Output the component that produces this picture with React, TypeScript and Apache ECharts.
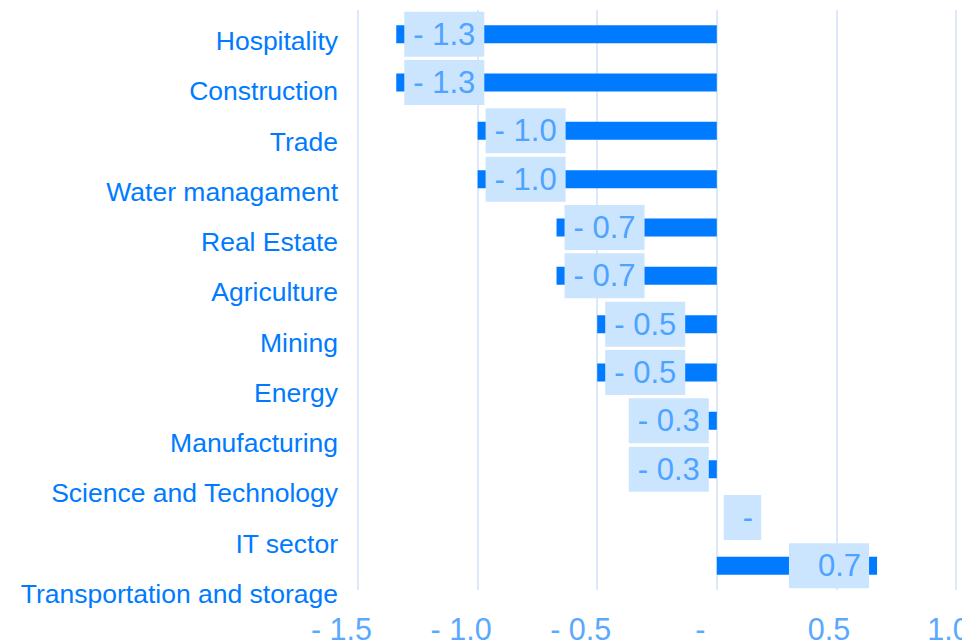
import React, { useEffect, useRef } from "react";
import * as echarts from "echarts";

const categories = [
  "Hospitality",
  "Construction",
  "Trade",
  "Water managament",
  "Real Estate",
  "Agriculture",
  "Mining",
  "Energy",
  "Manufacturing",
  "Science and Technology",
  "IT sector",
  "Transportation and storage",
];
const values = [-1.34, -1.34, -1.0, -1.0, -0.67, -0.67, -0.5, -0.5, -0.3, -0.3, 0, 0.67];
const xMin = -1.5;
const xMax = 1.0;
const xInterval = 0.5;

const FONT = "'Liberation Sans', Arial, sans-serif";
const BAR = "#007bff";
const BOX = "#cce5ff";
const LABEL_TXT = "#4da3ff";
const AXIS_TXT = "#5aa9ff";
const GRID_LINE = "#dde9fb";

const fmt = (v: number) => {
  if (Math.abs(v) < 1e-9) return "-";
  if (v < 0) return "- " + Math.abs(v).toFixed(1);
  return v.toFixed(1);
};

export default function App() {
  const ref = useRef<HTMLDivElement>(null);
  useEffect(() => {
    if (!ref.current) return;
    const chart = echarts.init(ref.current, undefined, { renderer: "svg" });
    const axisRich = { fontSize: 30.5, fontFamily: FONT, color: AXIS_TXT };
    const option: any = {
      animation: false,
      grid: [
        { left: 358, width: 598, top: 10, height: 580, containLabel: false, outerBoundsMode: "none" },
        { left: 358, width: 598, top: 16, height: 603, containLabel: false, outerBoundsMode: "none" },
      ],
      xAxis: [
        {
          type: "value",
          gridIndex: 0,
          min: xMin,
          max: xMax,
          interval: xInterval,
          axisLine: { show: false },
          axisTick: { show: false },
          splitLine: { show: true, lineStyle: { color: GRID_LINE, width: 2 } },
          axisLabel: {
            formatter: (v: number) => (v > 1e-9 ? `{p|${fmt(v)}}` : `{n|${fmt(v)}}`),
            fontSize: 30.5,
            fontFamily: FONT,
            color: AXIS_TXT,
            margin: 23,
            rich: {
              n: { ...axisRich, padding: [0, 33, 0, 0] },
              p: { ...axisRich, padding: [0, 15, 0, 0] },
            },
          },
        },
        {
          type: "value",
          gridIndex: 1,
          min: xMin,
          max: xMax,
          show: false,
        },
      ],
      yAxis: [
        {
          type: "category",
          gridIndex: 0,
          data: categories,
          inverse: true,
          axisLine: { show: false },
          axisTick: { show: false },
          axisLabel: { show: false },
          splitLine: { show: false },
        },
        {
          type: "category",
          gridIndex: 1,
          data: categories,
          inverse: true,
          axisLine: { show: false },
          axisTick: { show: false },
          splitLine: { show: false },
          axisLabel: {
            show: true,
            fontSize: 26.5,
            fontFamily: FONT,
            color: BAR,
            margin: 20,
          },
        },
      ],
      series: [
        {
          type: "bar",
          xAxisIndex: 0,
          yAxisIndex: 0,
          barWidth: 18,
          itemStyle: { color: BAR },
          data: values.map((v) => ({
            value: v,
            label: {
              padding: v > 0 ? [8, 8, 4, 29] : Math.abs(v) < 1e-9 ? [8, 8, 4, 19] : [8, 9, 4, 9],
            },
          })),
          label: {
            show: true,
            position: "inside",
            formatter: (p: any) => fmt(p.value),
            fontSize: 31,
            lineHeight: 33,
            fontFamily: FONT,
            color: LABEL_TXT,
            backgroundColor: BOX,
          },
          labelLayout: (p: any) => {
            const v = values[p.dataIndex];
            const r = p.rect;
            const w = p.labelRect.width;
            const zero = v < 0 ? r.x + r.width : r.x;
            const end = v < 0 ? r.x : r.x + r.width;
            let left: number;
            if (v < 0) {
              left = end + 8;
              if (left + w > zero - 8) left = zero - 8 - w;
            } else if (v > 0) {
              left = end - 8 - w;
            } else {
              left = zero + 7;
            }
            return { x: left, y: r.y + r.height / 2, align: "left", verticalAlign: "middle" };
          },
        },
      ],
    };
    chart.setOption(option);
    return () => chart.dispose();
  }, []);
  return (
    <div
      ref={ref}
      style={{ position: "fixed", left: 0, top: 0, width: 962, height: 644, background: "#fff" }}
    />
  );
}
